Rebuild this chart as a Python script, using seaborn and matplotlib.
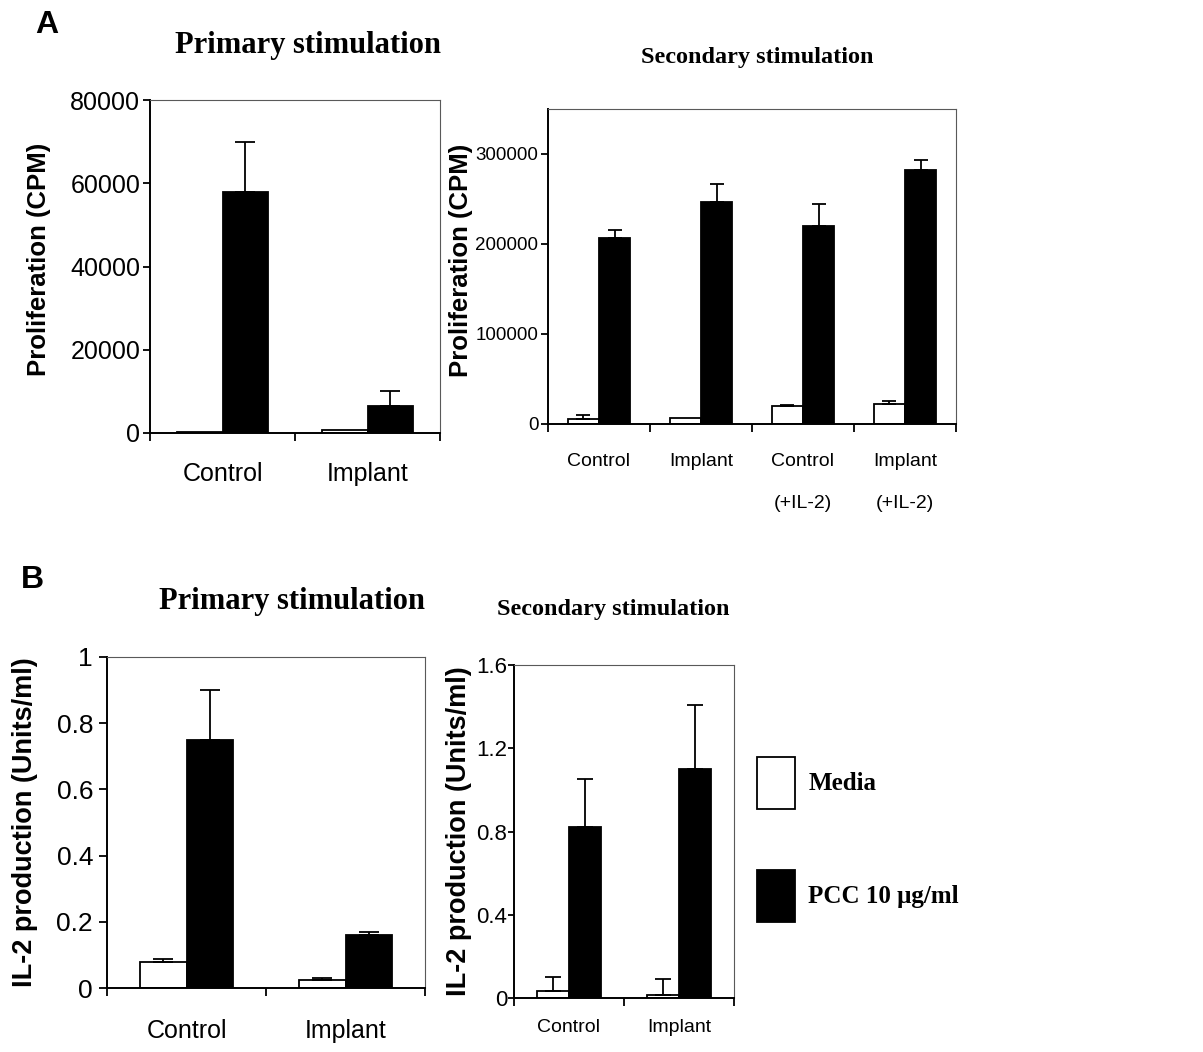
import numpy as np
import pandas as pd
import seaborn as sns
import matplotlib.pyplot as plt
from matplotlib.patches import Patch
from matplotlib import font_manager

sns.set_style("ticks")
plt.rcParams['font.family'] = ['Liberation Sans', 'DejaVu Sans']
for k in ['text.color', 'axes.labelcolor', 'xtick.color', 'ytick.color']:
    plt.rcParams[k] = 'black'

installed = {f.name for f in font_manager.fontManager.ttflist}
NARROW = 'Liberation Sans Narrow' in installed

W, H = 1203, 1052

# data
groups = ['Media', 'PCC 10 μg/ml']

a1_cats = ['Control', 'Implant']
a1_media = [200, 800]
a1_media_err = [0, 0]
a1_pcc = [58000, 6500]
a1_pcc_err = [12000, 3500]
a1_yticks = [0, 20000, 40000, 60000, 80000]
a1_yticklabels = ['0', '20000', '40000', '60000', '80000']

a2_cats = ['Control', 'Implant', 'Control\n(+IL-2)', 'Implant\n(+IL-2)']
a2_media = [6000, 7000, 20000, 22000]
a2_media_err = [4000, 0, 1500, 4000]
a2_pcc = [207000, 247000, 220000, 282000]
a2_pcc_err = [9000, 20000, 24000, 11000]
a2_yticks = [0, 100000, 200000, 300000]
a2_yticklabels = ['0', '100000', '200000', '300000']

b1_cats = ['Control', 'Implant']
b1_media = [0.078, 0.025]
b1_media_err = [0.01, 0.005]
b1_pcc = [0.75, 0.16]
b1_pcc_err = [0.15, 0.01]
b1_yticks = [0, 0.2, 0.4, 0.6, 0.8, 1]
b1_yticklabels = ['0', '0.2', '0.4', '0.6', '0.8', '1']

b2_cats = ['Control', 'Implant']
b2_media = [0.035, 0.015]
b2_media_err = [0.065, 0.075]
b2_pcc = [0.82, 1.10]
b2_pcc_err = [0.23, 0.31]
b2_yticks = [0, 0.4, 0.8, 1.2, 1.6]
b2_yticklabels = ['0', '0.4', '0.8', '1.2', '1.6']


def cond(size):
    # the scanned right-hand panels are horizontally squeezed
    if NARROW:
        return 'Liberation Sans Narrow', size / 0.85
    return 'Liberation Sans', size


def rect(left, top, right, bottom):
    return [left / W, 1 - bottom / H, (right - left) / W, (bottom - top) / H]


def panel(ax, cats, media, media_err, pcc, pcc_err, ylim, yticks, yticklabels,
          ylabel, ylab_xy, width, capsize, tick_font, xtick_font, ylab_size,
          ytick_len, ytick_pad, xpad, linespacing=1.2):
    n = len(cats)
    df = pd.DataFrame({
        'cat': cats * 2,
        'group': [groups[0]] * n + [groups[1]] * n,
        'value': media + pcc,
        'err': media_err + pcc_err,
    })
    sns.barplot(data=df, x='cat', y='value', hue='group', order=cats,
                hue_order=groups, palette={groups[0]: 'white', groups[1]: 'black'},
                edgecolor='black', linewidth=1.3, width=width, saturation=1,
                errorbar=None, legend=False, ax=ax)
    for cont, g in zip(ax.containers, groups):
        sub = df[df.group == g]
        for bar, e in zip(cont, sub.err.values):
            if e <= 0:
                continue
            ax.errorbar(bar.get_x() + bar.get_width() / 2, bar.get_height(),
                        yerr=[[0], [e]], fmt='none', ecolor='black',
                        elinewidth=1.3, capsize=capsize, capthick=1.3, zorder=3)

    ax.set_xlim(-0.5, n - 0.5)
    ax.set_ylim(*ylim)
    ax.set_yticks(yticks, labels=yticklabels,
                  fontfamily=tick_font[0], fontsize=tick_font[1])
    ax.set_xticks(range(n), labels=cats,
                  fontfamily=xtick_font[0], fontsize=xtick_font[1])
    for lab in ax.get_xticklabels():
        lab.set_linespacing(linespacing)
    ax.set_xticks(np.arange(n + 1) - 0.5, minor=True)
    ax.tick_params(axis='x', which='major', length=0, pad=xpad)
    ax.tick_params(axis='x', which='minor', length=5.5, width=1.3,
                   direction='out', color='black')
    ax.tick_params(axis='y', length=ytick_len, width=1.3, direction='out',
                   pad=ytick_pad, color='black')
    ax.set_xlabel('')
    ax.set_ylabel(ylabel, fontsize=ylab_size, fontweight='bold', va='center')
    ax.yaxis.set_label_coords(*ylab_xy)
    for s in ['left', 'bottom']:
        ax.spines[s].set_color('black')
        ax.spines[s].set_linewidth(1.4)
    for s in ['top', 'right']:
        ax.spines[s].set_visible(True)
        ax.spines[s].set_color('0.35')
        ax.spines[s].set_linewidth(0.8)


fig = plt.figure(figsize=(W / 100, H / 100), dpi=100)

ax1 = fig.add_axes(rect(150, 100, 440, 433))
panel(ax1, a1_cats, a1_media, a1_media_err, a1_pcc, a1_pcc_err,
      (0, 80000), a1_yticks, a1_yticklabels, 'Proliferation (CPM)',
      (-0.383, 0.52), 0.63, 7, ('Liberation Sans', 18), ('Liberation Sans', 18),
      18.5, 5, 2, 21)

ax2 = fig.add_axes(rect(548, 109, 956, 424))
panel(ax2, a2_cats, a2_media, a2_media_err, a2_pcc, a2_pcc_err,
      (0, 350000), a2_yticks, a2_yticklabels, 'Proliferation (CPM)',
      (-0.213, 0.52), 0.61, 4.7, cond(13.5), cond(14),
      18.5, 5, 2, 21, linespacing=2.9)

ax3 = fig.add_axes(rect(107, 657, 425, 988))
panel(ax3, b1_cats, b1_media, b1_media_err, b1_pcc, b1_pcc_err,
      (0, 1), b1_yticks, b1_yticklabels, 'IL-2 production (Units/ml)',
      (-0.258, 0.5), 0.59, 7, ('Liberation Sans', 19), ('Liberation Sans', 18),
      19.5, 6, 4, 22)

ax4 = fig.add_axes(rect(514, 665, 734, 998))
panel(ax4, b2_cats, b2_media, b2_media_err, b2_pcc, b2_pcc_err,
      (0, 1.6), b2_yticks, b2_yticklabels, 'IL-2 production (Units/ml)',
      (-0.25, 0.5), 0.58, 6, cond(16), cond(14),
      19.5, 4, 1, 15)

# titles and panel letters
serif = ['Liberation Serif', 'DejaVu Serif']
fig.text(308 / W, 1 - 45 / H, 'Primary stimulation', ha='center', va='center',
         family=serif, fontweight='bold', fontsize=22)
fig.text(757 / W, 1 - 57 / H, 'Secondary stimulation', ha='center', va='center',
         family=serif, fontweight='bold', fontsize=17.5)
fig.text(292 / W, 1 - 602 / H, 'Primary stimulation', ha='center', va='center',
         family=serif, fontweight='bold', fontsize=22)
fig.text(613 / W, 1 - 609 / H, 'Secondary stimulation', ha='center', va='center',
         family=serif, fontweight='bold', fontsize=17.5)
fig.text(47 / W, 1 - 25 / H, 'A', ha='center', va='center',
         fontweight='bold', fontsize=23)
fig.text(32 / W, 1 - 580 / H, 'B', ha='center', va='center',
         fontweight='bold', fontsize=23)

# legend
handles = [Patch(facecolor='white', edgecolor='black', linewidth=1.3),
           Patch(facecolor='black', edgecolor='black', linewidth=1.3)]
fig.legend(handles, groups, loc='upper left',
           bbox_to_anchor=(757 / W, 1 - 757 / H), frameon=False,
           borderpad=0, borderaxespad=0, handlelength=1.5, handleheight=2.82,
           labelspacing=2.44, handletextpad=0.55,
           prop={'family': serif, 'weight': 'bold', 'size': 18})

fig.savefig('out.png', dpi=100)
